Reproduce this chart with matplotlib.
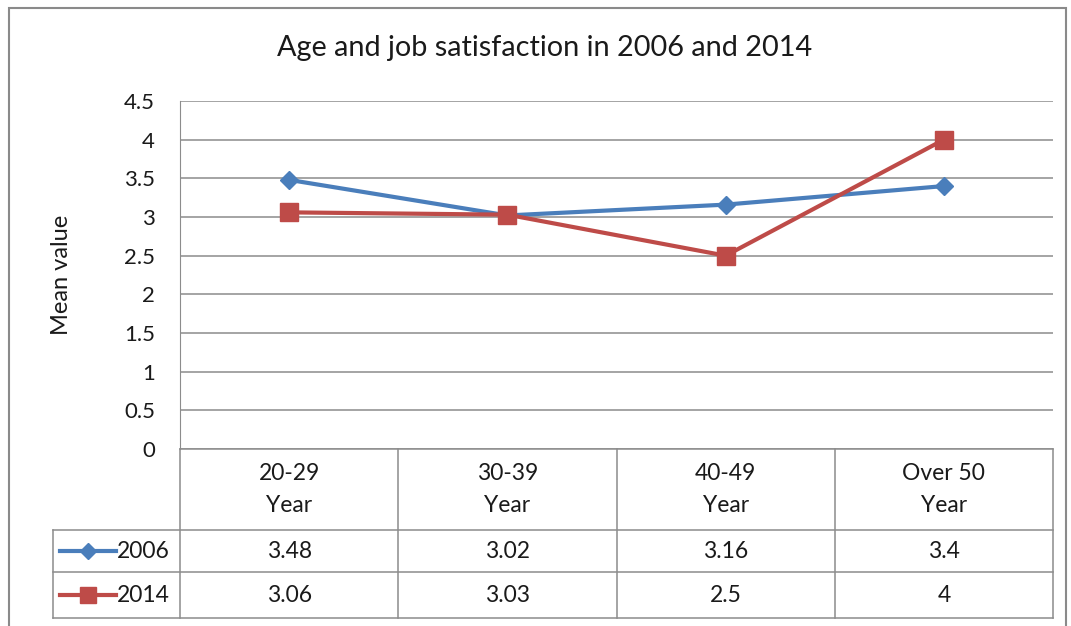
import matplotlib.pyplot as plt
from matplotlib.transforms import blended_transform_factory
from matplotlib.lines import Line2D
from matplotlib.patches import Rectangle

plt.rcParams['font.family'] = ['Lato', 'DejaVu Sans']

# ── DATA ────────────────────────────────────────────────────────────────────
categories = ['20-29\nYear', '30-39\nYear', '40-49\nYear', 'Over 50\nYear']
series_names = ['2006', '2014']
values_2006 = [3.48, 3.02, 3.16, 3.4]
values_2014 = [3.06, 3.03, 2.5, 4]
labels_2006 = ['3.48', '3.02', '3.16', '3.4']
labels_2014 = ['3.06', '3.03', '2.5', '4']
yticks = [0, 0.5, 1, 1.5, 2, 2.5, 3, 3.5, 4, 4.5]
ytick_labels = ['0', '0.5', '1', '1.5', '2', '2.5', '3', '3.5', '4', '4.5']

BLUE = '#4a7ebb'
RED = '#be4b48'
GRID = '#8c8c8c'
TXT = '#1a1a1a'
FS = 16.5

W, H = 1071, 626
fig = plt.figure(figsize=(W / 100, H / 100), dpi=100)

# outer chart border
fig.add_artist(Rectangle((9 / W, -0.05), (1066 - 9) / W, 1.05 - 8 / H,
                         transform=fig.transFigure, fill=False,
                         edgecolor='#8a8a8a', linewidth=1.5))

ax = fig.add_axes([180 / W, 1 - 449 / H, (1053 - 180) / W, (449 - 101) / H])
x = list(range(len(categories)))

ax.plot(x, values_2006, color=BLUE, lw=3, marker='D', ms=9.5, zorder=3,
        solid_capstyle='round')
ax.plot(x, values_2014, color=RED, lw=3, marker='s', ms=12.5, zorder=4,
        solid_capstyle='round')

ax.set_xlim(-0.5, len(categories) - 0.5)
ax.set_ylim(0, 4.5)
ax.set_yticks(yticks)
ax.set_yticklabels(ytick_labels, fontsize=16, color=TXT)
ax.set_xticks([])
ax.tick_params(axis='y', length=0, pad=18)
ax.grid(axis='y', color=GRID, lw=1.1)
ax.set_axisbelow(True)
for s in ['top', 'right', 'bottom']:
    ax.spines[s].set_visible(False)
ax.spines['left'].set_color(GRID)

fig.text(61 / W, 1 - 275 / H, 'Mean value', rotation=90, fontsize=17,
         color=TXT, ha='center', va='center')
fig.text(545 / W, 1 - 48 / H, 'Age and job satisfaction in 2006 and 2014',
         fontsize=20.8, color=TXT, ha='center', va='center')

# ── data table under the axis ───────────────────────────────────────────────
tr = blended_transform_factory(ax.transData, ax.transAxes)
px = 1 / (449 - 101)  # one pixel in axes fraction
y_head = -(530 - 449) * px
y_r1 = -(572 - 449) * px
y_r2 = -(618 - 449) * px
x_leg = -0.5 - (180 - 53) / 218.25

def hline(x0, x1, y):
    ax.add_line(Line2D([x0, x1], [y, y], transform=tr, color=GRID, lw=1.1,
                       clip_on=False))

def vline(xx, y0, y1):
    ax.add_line(Line2D([xx, xx], [y0, y1], transform=tr, color=GRID, lw=1.1,
                       clip_on=False))

n = len(categories)
hline(-0.5, n - 0.5, 0)
hline(x_leg, n - 0.5, y_head)
hline(x_leg, n - 0.5, y_r1)
hline(x_leg, n - 0.5, y_r2)
for b in range(n + 1):
    vline(b - 0.5, 0, y_r2)
vline(x_leg, y_head, y_r2)

for i, cat in enumerate(categories):
    ax.text(i, y_head / 2, cat, transform=tr, ha='center', va='center',
            fontsize=FS, color=TXT, linespacing=1.7)
    ax.text(i, (y_head + y_r1) / 2, labels_2006[i], transform=tr,
            ha='center', va='center', fontsize=FS, color=TXT)
    ax.text(i, (y_r1 + y_r2) / 2, labels_2014[i], transform=tr,
            ha='center', va='center', fontsize=FS, color=TXT)

# legend keys inside the table
for name, col, mk, ms, y0, y1 in [
        (series_names[0], BLUE, 'D', 8.5, y_head, y_r1),
        (series_names[1], RED, 's', 11.5, y_r1, y_r2)]:
    ym = (y0 + y1) / 2
    k0 = x_leg + 7 / 218.25
    k1 = x_leg + 63 / 218.25
    ax.add_line(Line2D([k0, k1], [ym, ym], transform=tr, color=col, lw=3,
                       clip_on=False))
    ax.add_line(Line2D([(k0 + k1) / 2], [ym], transform=tr, color=col,
                       marker=mk, ms=ms, clip_on=False))
    ax.text(k1 + 1 / 218.25, ym, name, transform=tr, ha='left', va='center',
            fontsize=FS, color=TXT)

fig.savefig('out.png', dpi=100)
